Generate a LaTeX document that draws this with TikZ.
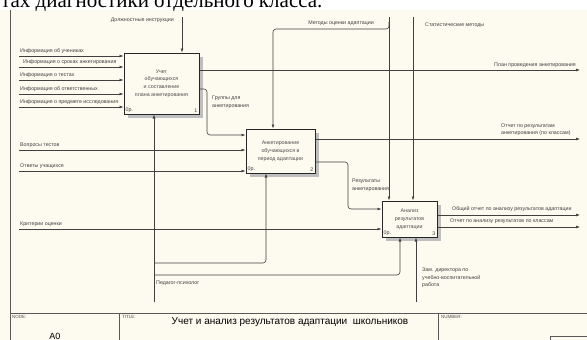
\documentclass[tikz,border=0pt]{standalone}
\usepackage{fontspec}
\setmainfont{Liberation Sans}
\newfontfamily\serifru{Liberation Serif}
\usetikzlibrary{arrows.meta,calc,shadows}
\definecolor{paper}{RGB}{253,250,240}

\begin{document}
\begin{tikzpicture}[x=1pt,y=-1pt,
  lbl/.style={font=\fontsize{5.3}{7.5}\selectfont,inner sep=0pt,text=black!75,align=left},
  tiny/.style={font=\fontsize{4.5}{5}\selectfont,inner sep=0pt,text=black!70},
  act/.style={draw=black!85,line width=1pt,fill=paper,align=center,inner sep=0pt,
    font=\fontsize{5.3}{7.8}\selectfont,text=black!70,
    general shadow={fill=black!25,shadow xshift=4pt,shadow yshift=-4pt}},
  conn/.style={draw=black!75,line width=0.6pt},
  arr/.style={conn,-{Latex[length=4pt,width=3pt]}},
  frm/.style={draw=black!65,line width=0.7pt}]

  \useasboundingbox (0,0) rectangle (587,340);
  \fill[paper] (0,10) rectangle (587,340);
  \begin{scope}
    \clip (0,0) rectangle (587,10);
    \node[anchor=base west,inner sep=0pt,font=\serifru\fontsize{21}{24}\selectfont] (head) at (1,8) {тах диагностики отдельного класса.};
  \end{scope}

  % frame and title strip
  \draw[frm] (10,10) -- (10,340);
  \draw[frm] (10,313) -- (587,313);
  \draw[frm] (119,313) -- (119,340);
  \draw[frm] (438,313) -- (438,340);
  \draw[frm] (550,340) |- (587,336);
  \node[tiny,anchor=north west] (nodelbl) at (12,315) {NODE:};
  \node[font=\fontsize{9}{10}\selectfont,inner sep=0pt] (nodeno) at (55,336) {A0};
  \node[tiny,anchor=north west] (titlelbl) at (122,315) {TITLE:};
  \node[font=\fontsize{10}{12}\selectfont,inner sep=0pt] (title) at (290,322) {Учет и анализ результатов адаптации\ \ школьников};
  \node[tiny,anchor=north west] (numlbl) at (441,315) {NUMBER:};

  % activities
  \node[act,minimum width=75pt,minimum height=61pt] (b1) at (161.5,83.5) {Учет\\обучающихся\\и составление\\плана анкетирования};
  \node[act,minimum width=69pt,minimum height=44pt] (b2) at (280.5,151) {Анкетирование\\обучающихся в\\период адаптации};
  \node[act,minimum width=55pt,minimum height=36pt] (b3) at (409.5,219) {Анализ\\результатов\\адаптации};
  \foreach \b/\n in {b1/1,b2/2,b3/3} {
    \node[lbl,anchor=south west] (\b p) at ($(\b.south west)+(2,-1.5)$) {0р.};
    \node[lbl,anchor=south east] (\b n) at ($(\b.south east)+(-2,-1.5)$) {\n};
  }

  % inputs
  \coordinate (i1) at (19,56);
  \coordinate (i2) at (19,67);
  \coordinate (i3) at (19,80);
  \coordinate (i4) at (19,94);
  \coordinate (i5) at (19,107);
  \coordinate (i6) at (19,150);
  \coordinate (i7) at (19,171);
  \coordinate (i8) at (19,229);
  \foreach \c in {i1,i2,i3,i4,i5} \draw[arr] (\c) -- (\c -| b1.west);
  \foreach \c in {i6,i7} \draw[arr] (\c) -- (\c -| b2.west);
  \draw[arr] (i8) -- (i8 -| b3.west);
  \node[lbl,anchor=south west] (t1) at (20,54) {Информация об учениках};
  \node[lbl,anchor=south west] (t2) at (23,65) {Информация о сроках анкетирования};
  \node[lbl,anchor=south west] (t3) at (20,78) {Информация о тестах};
  \node[lbl,anchor=south west] (t4) at (20,92) {Информация об ответственных};
  \node[lbl,anchor=south west] (t5) at (20,105) {Информация о предмете исследования};
  \node[lbl,anchor=south west] (t6) at (20,148) {Вопросы тестов};
  \node[lbl,anchor=south west] (t7) at (20,169) {Ответы учащихся};
  \node[lbl,anchor=south west] (t8) at (20,227) {Критерии оценки};

  % controls
  \coordinate (c1) at (182,17);
  \coordinate (c2) at (389,17);
  \coordinate (c3) at (413,17);
  \coordinate (c2j) at (389,22);
  \coordinate (c2t) at (273,29);
  \draw[arr] (c1) -- (c1 |- b1.north);
  \draw[arr] (c2) -- (c2 |- b3.north);
  \draw[arr] (c3) -- (c3 |- b3.north);
  \draw[arr,rounded corners=3pt] (c2j) |- (c2t) -- (c2t |- b2.north);
  \node[lbl,anchor=east] (k1) at (174,20) {Должностные инструкции};
  \node[lbl,anchor=east] (k2) at (374,23) {Методы оценки адаптации};
  \node[lbl,anchor=west] (k3) at (425,25) {Статистические методы};

  % outputs
  \coordinate (o1) at (580,70);
  \coordinate (o2) at (580,139);
  \coordinate (o3) at (580,215);
  \coordinate (o4) at (580,227);
  \draw[arr] (o1 -| b1.east) -- (o1);
  \draw[arr] (o2 -| b2.east) -- (o2);
  \draw[arr] (o3 -| b3.east) -- (o3);
  \draw[arr] (o4 -| b3.east) -- (o4);
  \node[lbl,anchor=south east] (u1) at (576,68) {План проведения анкетирования};
  \node[lbl,anchor=south west] (u2) at (501,136) {Отчет по результатам\\анкетирования (по классам)};
  \node[lbl,anchor=south west] (u3) at (452,212) {Общий отчет по анализу результатов адаптации};
  \node[lbl,anchor=south west] (u4) at (450,224) {Отчет по анализу результатов по классам};

  % links between activities
  \coordinate (g1) at (207,89);
  \coordinate (g2) at (207,135);
  \coordinate (r1) at (348,162);
  \coordinate (r2) at (348,209);
  \draw[arr,rounded corners=3pt] (g1 -| b1.east) -- (g1) -- (g2) -- (g2 -| b2.west);
  \draw[arr,rounded corners=3pt] (r1 -| b2.east) -- (r1) -- (r2) -- (r2 -| b3.west);
  \node[lbl,anchor=west] (l1) at (212,102) {Группы для\\анкетирования};
  \node[lbl,anchor=west] (l2) at (352,185) {Результаты\\анкетирования};

  % mechanisms
  \coordinate (m1) at (154,302);
  \coordinate (m2) at (416,302);
  \coordinate (m1a) at (154,263);
  \coordinate (m1b) at (266,263);
  \coordinate (m1c) at (154,275);
  \coordinate (m1d) at (400,275);
  \draw[arr] (m1) -- (m1 |- b1.south);
  \draw[arr] (m2) -- (m2 |- b3.south);
  \draw[arr,rounded corners=3pt] (m1a) -- (m1b) -- (m1b |- b2.south);
  \draw[arr,rounded corners=3pt] (m1c) -- (m1d) -- (m1d |- b3.south);
  \node[lbl,anchor=west] (s1) at (156,283) {Педагог-психолог};
  \node[lbl,anchor=north west] (s2) at (422,268) {Зам. директора по\\учебно-воспитательной\\работа};
\end{tikzpicture}
\end{document}
